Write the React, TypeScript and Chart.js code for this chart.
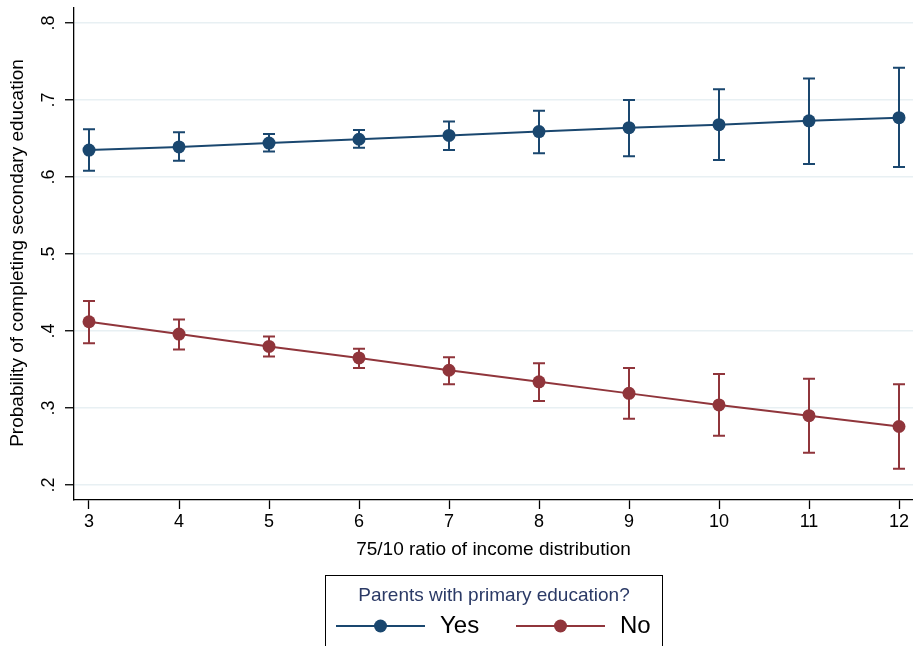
import React, { useEffect, useRef } from "react";
import { Chart, registerables } from "chart.js";

Chart.register(...registerables);

const xValues = [3, 4, 5, 6, 7, 8, 9, 10, 11, 12];
const yesMean = [0.635, 0.639, 0.644, 0.649, 0.654, 0.659, 0.664, 0.668, 0.673, 0.677];
const yesLow = [0.608, 0.621, 0.633, 0.638, 0.635, 0.631, 0.627, 0.622, 0.617, 0.613];
const yesHigh = [0.662, 0.658, 0.656, 0.661, 0.672, 0.686, 0.7, 0.714, 0.728, 0.742];
const noMean = [0.412, 0.396, 0.38, 0.365, 0.349, 0.334, 0.319, 0.304, 0.29, 0.276];
const noLow = [0.384, 0.376, 0.367, 0.352, 0.331, 0.309, 0.286, 0.264, 0.242, 0.221];
const noHigh = [0.439, 0.415, 0.393, 0.377, 0.366, 0.358, 0.352, 0.344, 0.338, 0.331];
const yTicks = [0.2, 0.3, 0.4, 0.5, 0.6, 0.7, 0.8];
const yTickLabels = [".2", ".3", ".4", ".5", ".6", ".7", ".8"];
const seriesNames = ["Yes", "No"];
const legendTitle = "Parents with primary education?";
const xTitle = "75/10 ratio of income distribution";
const yTitle = "Probability of completing secondary education";

const YES_COLOR = "#1a476f";
const NO_COLOR = "#90353b";
const FONT = "'Liberation Sans', Arial, sans-serif";

export default function App() {
  const ref = useRef<HTMLCanvasElement | null>(null);

  useEffect(() => {
    if (!ref.current) return;
    const ciLow = [yesLow, noLow];
    const ciHigh = [yesHigh, noHigh];
    const colors = [YES_COLOR, NO_COLOR];

    const custom = {
      id: "custom",
      beforeDatasetsDraw(chart: any) {
        const ctx = chart.ctx;
        const xs = chart.scales.x;
        const ys = chart.scales.y;
        ctx.save();
        for (let s = 0; s < 2; s++) {
          ctx.strokeStyle = colors[s];
          ctx.lineWidth = 2;
          for (let i = 0; i < xValues.length; i++) {
            const px = xs.getPixelForValue(xValues[i]);
            const lo = ys.getPixelForValue(ciLow[s][i]);
            const hi = ys.getPixelForValue(ciHigh[s][i]);
            ctx.beginPath();
            ctx.moveTo(px, lo);
            ctx.lineTo(px, hi);
            ctx.moveTo(px - 6, lo);
            ctx.lineTo(px + 6, lo);
            ctx.moveTo(px - 6, hi);
            ctx.lineTo(px + 6, hi);
            ctx.stroke();
          }
        }
        ctx.restore();
      },
      afterDraw(chart: any) {
        const ctx = chart.ctx;
        const ys = chart.scales.y;
        const area = chart.chartArea;
        ctx.save();
        // y tick labels, rotated
        ctx.fillStyle = "#000";
        ctx.font = `18px ${FONT}`;
        ctx.textAlign = "center";
        ctx.textBaseline = "middle";
        for (let i = 0; i < yTicks.length; i++) {
          const py = ys.getPixelForValue(yTicks[i]);
          ctx.save();
          ctx.translate(49, py);
          ctx.rotate(-Math.PI / 2);
          ctx.fillText(yTickLabels[i], 0, 0);
          ctx.restore();
        }
        // y title
        ctx.save();
        ctx.font = `19px ${FONT}`;
        ctx.translate(18, 253);
        ctx.rotate(-Math.PI / 2);
        ctx.fillText(yTitle, 0, 0);
        ctx.restore();
        // x title
        ctx.font = `19px ${FONT}`;
        ctx.fillText(xTitle, (area.left + area.right) / 2, 550);
        // legend
        ctx.strokeStyle = "#000";
        ctx.lineWidth = 1;
        ctx.strokeRect(325.5, 575.5, 337, 100);
        ctx.fillStyle = "#2b3a66";
        ctx.font = `19px ${FONT}`;
        ctx.fillText(legendTitle, 494, 596);
        const lx = [336, 516];
        for (let s = 0; s < 2; s++) {
          const x0 = lx[s];
          const y0 = 626;
          ctx.strokeStyle = colors[s];
          ctx.lineWidth = 2;
          ctx.beginPath();
          ctx.moveTo(x0, y0);
          ctx.lineTo(x0 + 89, y0);
          ctx.stroke();
          ctx.fillStyle = colors[s];
          ctx.beginPath();
          ctx.arc(x0 + 44.5, y0, 6.5, 0, Math.PI * 2);
          ctx.fill();
          ctx.fillStyle = "#000";
          ctx.font = `24px ${FONT}`;
          ctx.textAlign = "left";
          ctx.fillText(seriesNames[s], x0 + 104, y0);
          ctx.textAlign = "center";
        }
        ctx.restore();
      },
    };

    const chart = new Chart(ref.current, {
      type: "line",
      data: {
        datasets: [
          {
            label: seriesNames[0],
            data: xValues.map((x, i) => ({ x, y: yesMean[i] })),
            borderColor: YES_COLOR,
            backgroundColor: YES_COLOR,
            borderWidth: 2,
            pointRadius: 6.5,
            pointBorderWidth: 0,
            tension: 0,
          },
          {
            label: seriesNames[1],
            data: xValues.map((x, i) => ({ x, y: noMean[i] })),
            borderColor: NO_COLOR,
            backgroundColor: NO_COLOR,
            borderWidth: 2,
            pointRadius: 6.5,
            pointBorderWidth: 0,
            tension: 0,
          },
        ],
      },
      options: {
        responsive: false,
        animation: false,
        devicePixelRatio: 1,
        layout: { autoPadding: false, padding: { top: 8, right: 0, left: 0, bottom: 0 } },
        plugins: { legend: { display: false }, tooltip: { enabled: false } },
        scales: {
          x: {
            type: "linear",
            min: 3 - 15 / 90,
            max: 12 + 14 / 90,
            afterFit(scale: any) {
              scale.height = 146;
              scale.paddingLeft = 0;
              scale.paddingRight = 0;
            },
            ticks: {
              stepSize: 1,
              includeBounds: false,
              color: "#000",
              font: { size: 18, family: FONT },
              padding: 2,
              maxRotation: 0,
              callback: (v: any) => String(Math.round(Number(v))),
            },
            grid: {
              drawOnChartArea: false,
              drawTicks: true,
              tickLength: 9,
              tickColor: "#000",
              tickWidth: 1.3,
            },
            border: { color: "#000", width: 1.3 },
          },
          y: {
            type: "linear",
            min: 0.2 - 15 / 770,
            max: 0.8 + 15 / 770,
            afterFit(scale: any) {
              scale.width = 74;
              scale.paddingTop = 0;
              scale.paddingBottom = 0;
            },
            ticks: {
              stepSize: 0.1,
              includeBounds: false,
              display: false,
            },
            grid: {
              color: "#e8f0f3",
              lineWidth: 1.5,
              drawTicks: true,
              tickLength: 9,
              tickColor: "#000",
              tickWidth: 1.3,
            },
            border: { color: "#000", width: 1.3 },
          },
        },
      },
      plugins: [custom],
    } as any);
    return () => chart.destroy();
  }, []);

  return (
    <div style={{ position: "absolute", left: 0, top: 0, width: 913, height: 646, background: "#fff" }}>
      <canvas ref={ref} width={913} height={646} style={{ display: "block" }} />
    </div>
  );
}
